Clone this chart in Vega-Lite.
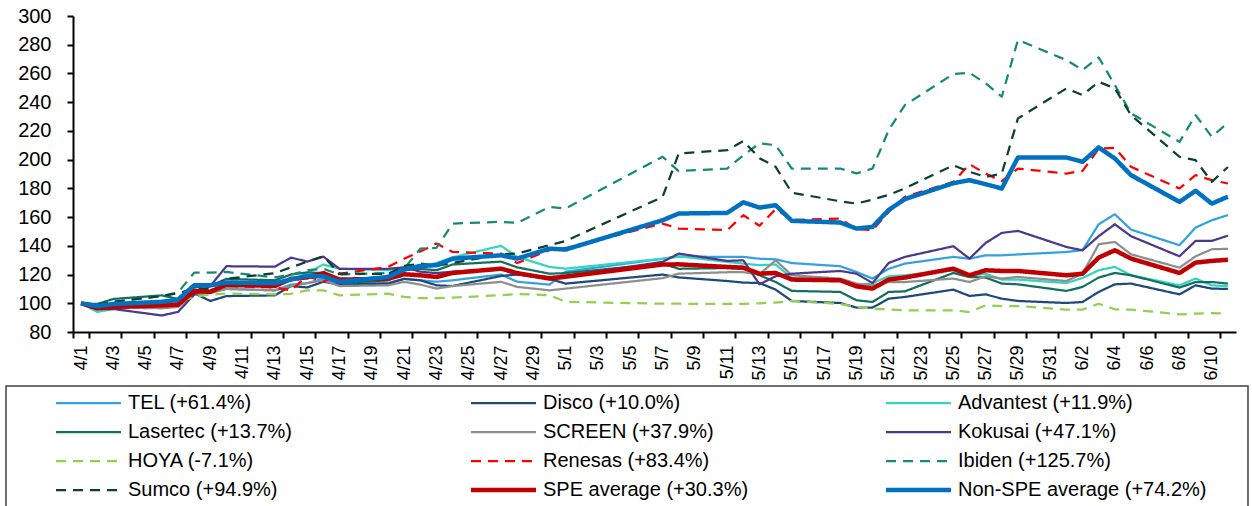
{
"$schema":"https://vega.github.io/schema/vega-lite/v6.json",
"width":1163,"height":316,
"autosize":{"type":"none"},
"padding":{"left":73,"top":16,"right":16,"bottom":174},
"background":"white",
"config":{"view":{"stroke":null},"font":"Liberation Sans",
"axis":{"domainColor":"black","tickColor":"black","labelColor":"black","domainWidth":2,"tickWidth":2,"tickSize":6,"grid":false,"title":null}},
"data":{"values":[
{"date":"4/1","series":"TEL (+61.4%)","value":100},{"date":"4/2","series":"TEL (+61.4%)","value":96},{"date":"4/3","series":"TEL (+61.4%)","value":97},{"date":"4/6","series":"TEL (+61.4%)","value":98},{"date":"4/7","series":"TEL (+61.4%)","value":99},{"date":"4/8","series":"TEL (+61.4%)","value":107},{"date":"4/9","series":"TEL (+61.4%)","value":108},{"date":"4/10","series":"TEL (+61.4%)","value":110},{"date":"4/13","series":"TEL (+61.4%)","value":109},{"date":"4/14","series":"TEL (+61.4%)","value":113},{"date":"4/15","series":"TEL (+61.4%)","value":114},{"date":"4/16","series":"TEL (+61.4%)","value":117},{"date":"4/17","series":"TEL (+61.4%)","value":114},{"date":"4/20","series":"TEL (+61.4%)","value":114},{"date":"4/21","series":"TEL (+61.4%)","value":117},{"date":"4/22","series":"TEL (+61.4%)","value":116},{"date":"4/23","series":"TEL (+61.4%)","value":115},{"date":"4/24","series":"TEL (+61.4%)","value":116},{"date":"4/27","series":"TEL (+61.4%)","value":120},{"date":"4/28","series":"TEL (+61.4%)","value":115},{"date":"4/30","series":"TEL (+61.4%)","value":113},{"date":"5/1","series":"TEL (+61.4%)","value":122},{"date":"5/7","series":"TEL (+61.4%)","value":131},{"date":"5/8","series":"TEL (+61.4%)","value":132.5},{"date":"5/11","series":"TEL (+61.4%)","value":132.3},{"date":"5/12","series":"TEL (+61.4%)","value":132.3},{"date":"5/13","series":"TEL (+61.4%)","value":131},{"date":"5/14","series":"TEL (+61.4%)","value":130.6},{"date":"5/15","series":"TEL (+61.4%)","value":128},{"date":"5/18","series":"TEL (+61.4%)","value":125.8},{"date":"5/19","series":"TEL (+61.4%)","value":121.8},{"date":"5/20","series":"TEL (+61.4%)","value":117.2},{"date":"5/21","series":"TEL (+61.4%)","value":124},{"date":"5/22","series":"TEL (+61.4%)","value":127.6},{"date":"5/25","series":"TEL (+61.4%)","value":132.3},{"date":"5/26","series":"TEL (+61.4%)","value":131},{"date":"5/27","series":"TEL (+61.4%)","value":133.4},{"date":"5/28","series":"TEL (+61.4%)","value":133.4},{"date":"5/29","series":"TEL (+61.4%)","value":134},{"date":"6/1","series":"TEL (+61.4%)","value":135.7},{"date":"6/2","series":"TEL (+61.4%)","value":137},{"date":"6/3","series":"TEL (+61.4%)","value":155},{"date":"6/4","series":"TEL (+61.4%)","value":162},{"date":"6/5","series":"TEL (+61.4%)","value":151.3},{"date":"6/8","series":"TEL (+61.4%)","value":140.4},{"date":"6/9","series":"TEL (+61.4%)","value":152.7},{"date":"6/10","series":"TEL (+61.4%)","value":157.8},{"date":"6/11","series":"TEL (+61.4%)","value":161.4},
{"date":"4/1","series":"Disco (+10.0%)","value":100},{"date":"4/2","series":"Disco (+10.0%)","value":97},{"date":"4/3","series":"Disco (+10.0%)","value":97},{"date":"4/6","series":"Disco (+10.0%)","value":99},{"date":"4/7","series":"Disco (+10.0%)","value":100},{"date":"4/8","series":"Disco (+10.0%)","value":107},{"date":"4/9","series":"Disco (+10.0%)","value":101.6},{"date":"4/10","series":"Disco (+10.0%)","value":105},{"date":"4/13","series":"Disco (+10.0%)","value":105.5},{"date":"4/14","series":"Disco (+10.0%)","value":112},{"date":"4/15","series":"Disco (+10.0%)","value":111},{"date":"4/16","series":"Disco (+10.0%)","value":115},{"date":"4/17","series":"Disco (+10.0%)","value":113},{"date":"4/20","series":"Disco (+10.0%)","value":113.7},{"date":"4/21","series":"Disco (+10.0%)","value":117},{"date":"4/22","series":"Disco (+10.0%)","value":116},{"date":"4/23","series":"Disco (+10.0%)","value":112.5},{"date":"4/24","series":"Disco (+10.0%)","value":112},{"date":"4/27","series":"Disco (+10.0%)","value":119},{"date":"4/28","series":"Disco (+10.0%)","value":120},{"date":"4/30","series":"Disco (+10.0%)","value":117},{"date":"5/1","series":"Disco (+10.0%)","value":113.7},{"date":"5/7","series":"Disco (+10.0%)","value":120},{"date":"5/8","series":"Disco (+10.0%)","value":118},{"date":"5/11","series":"Disco (+10.0%)","value":115.5},{"date":"5/12","series":"Disco (+10.0%)","value":114.4},{"date":"5/13","series":"Disco (+10.0%)","value":114.1},{"date":"5/14","series":"Disco (+10.0%)","value":109.5},{"date":"5/15","series":"Disco (+10.0%)","value":101.6},{"date":"5/18","series":"Disco (+10.0%)","value":100.2},{"date":"5/19","series":"Disco (+10.0%)","value":97},{"date":"5/20","series":"Disco (+10.0%)","value":97},{"date":"5/21","series":"Disco (+10.0%)","value":103.2},{"date":"5/22","series":"Disco (+10.0%)","value":104.4},{"date":"5/25","series":"Disco (+10.0%)","value":109.5},{"date":"5/26","series":"Disco (+10.0%)","value":105.1},{"date":"5/27","series":"Disco (+10.0%)","value":106.2},{"date":"5/28","series":"Disco (+10.0%)","value":103.2},{"date":"5/29","series":"Disco (+10.0%)","value":101.6},{"date":"6/1","series":"Disco (+10.0%)","value":100.2},{"date":"6/2","series":"Disco (+10.0%)","value":100.9},{"date":"6/3","series":"Disco (+10.0%)","value":107.9},{"date":"6/4","series":"Disco (+10.0%)","value":113.2},{"date":"6/5","series":"Disco (+10.0%)","value":113.7},{"date":"6/8","series":"Disco (+10.0%)","value":106.2},{"date":"6/9","series":"Disco (+10.0%)","value":112.5},{"date":"6/10","series":"Disco (+10.0%)","value":110.2},{"date":"6/11","series":"Disco (+10.0%)","value":110},
{"date":"4/1","series":"Advantest (+11.9%)","value":100},{"date":"4/2","series":"Advantest (+11.9%)","value":94},{"date":"4/3","series":"Advantest (+11.9%)","value":96},{"date":"4/6","series":"Advantest (+11.9%)","value":98},{"date":"4/7","series":"Advantest (+11.9%)","value":100},{"date":"4/8","series":"Advantest (+11.9%)","value":107},{"date":"4/9","series":"Advantest (+11.9%)","value":108},{"date":"4/10","series":"Advantest (+11.9%)","value":111},{"date":"4/13","series":"Advantest (+11.9%)","value":113},{"date":"4/14","series":"Advantest (+11.9%)","value":116},{"date":"4/15","series":"Advantest (+11.9%)","value":121},{"date":"4/16","series":"Advantest (+11.9%)","value":127},{"date":"4/17","series":"Advantest (+11.9%)","value":124},{"date":"4/20","series":"Advantest (+11.9%)","value":123},{"date":"4/21","series":"Advantest (+11.9%)","value":125},{"date":"4/22","series":"Advantest (+11.9%)","value":125},{"date":"4/23","series":"Advantest (+11.9%)","value":128},{"date":"4/24","series":"Advantest (+11.9%)","value":132},{"date":"4/27","series":"Advantest (+11.9%)","value":140},{"date":"4/28","series":"Advantest (+11.9%)","value":132.3},{"date":"4/30","series":"Advantest (+11.9%)","value":125.3},{"date":"5/1","series":"Advantest (+11.9%)","value":124.1},{"date":"5/7","series":"Advantest (+11.9%)","value":131},{"date":"5/8","series":"Advantest (+11.9%)","value":132.7},{"date":"5/11","series":"Advantest (+11.9%)","value":128.8},{"date":"5/12","series":"Advantest (+11.9%)","value":127.6},{"date":"5/13","series":"Advantest (+11.9%)","value":126.5},{"date":"5/14","series":"Advantest (+11.9%)","value":127},{"date":"5/15","series":"Advantest (+11.9%)","value":117.5},{"date":"5/18","series":"Advantest (+11.9%)","value":116.5},{"date":"5/19","series":"Advantest (+11.9%)","value":112.5},{"date":"5/20","series":"Advantest (+11.9%)","value":114},{"date":"5/21","series":"Advantest (+11.9%)","value":118.8},{"date":"5/22","series":"Advantest (+11.9%)","value":119.5},{"date":"5/25","series":"Advantest (+11.9%)","value":123},{"date":"5/26","series":"Advantest (+11.9%)","value":119},{"date":"5/27","series":"Advantest (+11.9%)","value":120.6},{"date":"5/28","series":"Advantest (+11.9%)","value":116.5},{"date":"5/29","series":"Advantest (+11.9%)","value":116.5},{"date":"6/1","series":"Advantest (+11.9%)","value":114.1},{"date":"6/2","series":"Advantest (+11.9%)","value":117.6},{"date":"6/3","series":"Advantest (+11.9%)","value":123},{"date":"6/4","series":"Advantest (+11.9%)","value":125.3},{"date":"6/5","series":"Advantest (+11.9%)","value":119.5},{"date":"6/8","series":"Advantest (+11.9%)","value":112.5},{"date":"6/9","series":"Advantest (+11.9%)","value":117.2},{"date":"6/10","series":"Advantest (+11.9%)","value":112.5},{"date":"6/11","series":"Advantest (+11.9%)","value":111.9},
{"date":"4/1","series":"Lasertec (+13.7%)","value":100},{"date":"4/2","series":"Lasertec (+13.7%)","value":99.5},{"date":"4/3","series":"Lasertec (+13.7%)","value":103},{"date":"4/6","series":"Lasertec (+13.7%)","value":105.5},{"date":"4/7","series":"Lasertec (+13.7%)","value":103},{"date":"4/8","series":"Lasertec (+13.7%)","value":111},{"date":"4/9","series":"Lasertec (+13.7%)","value":112},{"date":"4/10","series":"Lasertec (+13.7%)","value":117},{"date":"4/13","series":"Lasertec (+13.7%)","value":116},{"date":"4/14","series":"Lasertec (+13.7%)","value":120},{"date":"4/15","series":"Lasertec (+13.7%)","value":121.5},{"date":"4/16","series":"Lasertec (+13.7%)","value":121},{"date":"4/17","series":"Lasertec (+13.7%)","value":114},{"date":"4/20","series":"Lasertec (+13.7%)","value":116},{"date":"4/21","series":"Lasertec (+13.7%)","value":123},{"date":"4/22","series":"Lasertec (+13.7%)","value":124},{"date":"4/23","series":"Lasertec (+13.7%)","value":123},{"date":"4/24","series":"Lasertec (+13.7%)","value":127},{"date":"4/27","series":"Lasertec (+13.7%)","value":129},{"date":"4/28","series":"Lasertec (+13.7%)","value":125},{"date":"4/30","series":"Lasertec (+13.7%)","value":120.6},{"date":"5/1","series":"Lasertec (+13.7%)","value":121},{"date":"5/7","series":"Lasertec (+13.7%)","value":127.6},{"date":"5/8","series":"Lasertec (+13.7%)","value":124},{"date":"5/11","series":"Lasertec (+13.7%)","value":124.5},{"date":"5/12","series":"Lasertec (+13.7%)","value":124},{"date":"5/13","series":"Lasertec (+13.7%)","value":119.5},{"date":"5/14","series":"Lasertec (+13.7%)","value":114.8},{"date":"5/15","series":"Lasertec (+13.7%)","value":108.6},{"date":"5/18","series":"Lasertec (+13.7%)","value":107.9},{"date":"5/19","series":"Lasertec (+13.7%)","value":102.1},{"date":"5/20","series":"Lasertec (+13.7%)","value":100.9},{"date":"5/21","series":"Lasertec (+13.7%)","value":107.9},{"date":"5/22","series":"Lasertec (+13.7%)","value":108.3},{"date":"5/25","series":"Lasertec (+13.7%)","value":121.1},{"date":"5/26","series":"Lasertec (+13.7%)","value":118.3},{"date":"5/27","series":"Lasertec (+13.7%)","value":117.9},{"date":"5/28","series":"Lasertec (+13.7%)","value":113.7},{"date":"5/29","series":"Lasertec (+13.7%)","value":113.2},{"date":"6/1","series":"Lasertec (+13.7%)","value":108.6},{"date":"6/2","series":"Lasertec (+13.7%)","value":111.4},{"date":"6/3","series":"Lasertec (+13.7%)","value":117.9},{"date":"6/4","series":"Lasertec (+13.7%)","value":121.1},{"date":"6/5","series":"Lasertec (+13.7%)","value":119.5},{"date":"6/8","series":"Lasertec (+13.7%)","value":110.9},{"date":"6/9","series":"Lasertec (+13.7%)","value":114.8},{"date":"6/10","series":"Lasertec (+13.7%)","value":114.8},{"date":"6/11","series":"Lasertec (+13.7%)","value":113.7},
{"date":"4/1","series":"SCREEN (+37.9%)","value":100},{"date":"4/2","series":"SCREEN (+37.9%)","value":97},{"date":"4/3","series":"SCREEN (+37.9%)","value":97},{"date":"4/6","series":"SCREEN (+37.9%)","value":96.5},{"date":"4/7","series":"SCREEN (+37.9%)","value":97.5},{"date":"4/8","series":"SCREEN (+37.9%)","value":106},{"date":"4/9","series":"SCREEN (+37.9%)","value":107},{"date":"4/10","series":"SCREEN (+37.9%)","value":110},{"date":"4/13","series":"SCREEN (+37.9%)","value":109},{"date":"4/14","series":"SCREEN (+37.9%)","value":112},{"date":"4/15","series":"SCREEN (+37.9%)","value":114},{"date":"4/16","series":"SCREEN (+37.9%)","value":116},{"date":"4/17","series":"SCREEN (+37.9%)","value":112},{"date":"4/20","series":"SCREEN (+37.9%)","value":112.5},{"date":"4/21","series":"SCREEN (+37.9%)","value":114.9},{"date":"4/22","series":"SCREEN (+37.9%)","value":113},{"date":"4/23","series":"SCREEN (+37.9%)","value":110.2},{"date":"4/24","series":"SCREEN (+37.9%)","value":112},{"date":"4/27","series":"SCREEN (+37.9%)","value":114.9},{"date":"4/28","series":"SCREEN (+37.9%)","value":111.4},{"date":"4/30","series":"SCREEN (+37.9%)","value":109},{"date":"5/1","series":"SCREEN (+37.9%)","value":110.2},{"date":"5/7","series":"SCREEN (+37.9%)","value":117.5},{"date":"5/8","series":"SCREEN (+37.9%)","value":120.6},{"date":"5/11","series":"SCREEN (+37.9%)","value":121.6},{"date":"5/12","series":"SCREEN (+37.9%)","value":121.6},{"date":"5/13","series":"SCREEN (+37.9%)","value":120.2},{"date":"5/14","series":"SCREEN (+37.9%)","value":129.9},{"date":"5/15","series":"SCREEN (+37.9%)","value":119.5},{"date":"5/18","series":"SCREEN (+37.9%)","value":117.2},{"date":"5/19","series":"SCREEN (+37.9%)","value":113.7},{"date":"5/20","series":"SCREEN (+37.9%)","value":112.5},{"date":"5/21","series":"SCREEN (+37.9%)","value":114.8},{"date":"5/22","series":"SCREEN (+37.9%)","value":114.8},{"date":"5/25","series":"SCREEN (+37.9%)","value":117.2},{"date":"5/26","series":"SCREEN (+37.9%)","value":114.8},{"date":"5/27","series":"SCREEN (+37.9%)","value":118.8},{"date":"5/28","series":"SCREEN (+37.9%)","value":117.2},{"date":"5/29","series":"SCREEN (+37.9%)","value":118.3},{"date":"6/1","series":"SCREEN (+37.9%)","value":115.5},{"date":"6/2","series":"SCREEN (+37.9%)","value":120.6},{"date":"6/3","series":"SCREEN (+37.9%)","value":141.1},{"date":"6/4","series":"SCREEN (+37.9%)","value":142.7},{"date":"6/5","series":"SCREEN (+37.9%)","value":134.1},{"date":"6/8","series":"SCREEN (+37.9%)","value":124.8},{"date":"6/9","series":"SCREEN (+37.9%)","value":132.7},{"date":"6/10","series":"SCREEN (+37.9%)","value":137.6},{"date":"6/11","series":"SCREEN (+37.9%)","value":137.9},
{"date":"4/1","series":"Kokusai (+47.1%)","value":100},{"date":"4/2","series":"Kokusai (+47.1%)","value":96},{"date":"4/3","series":"Kokusai (+47.1%)","value":96},{"date":"4/6","series":"Kokusai (+47.1%)","value":91.5},{"date":"4/7","series":"Kokusai (+47.1%)","value":94},{"date":"4/8","series":"Kokusai (+47.1%)","value":106},{"date":"4/9","series":"Kokusai (+47.1%)","value":112},{"date":"4/10","series":"Kokusai (+47.1%)","value":125.8},{"date":"4/13","series":"Kokusai (+47.1%)","value":125.5},{"date":"4/14","series":"Kokusai (+47.1%)","value":131.8},{"date":"4/15","series":"Kokusai (+47.1%)","value":129},{"date":"4/16","series":"Kokusai (+47.1%)","value":132.5},{"date":"4/17","series":"Kokusai (+47.1%)","value":124},{"date":"4/20","series":"Kokusai (+47.1%)","value":124},{"date":"4/21","series":"Kokusai (+47.1%)","value":125},{"date":"4/22","series":"Kokusai (+47.1%)","value":122},{"date":"4/23","series":"Kokusai (+47.1%)","value":121},{"date":"4/24","series":"Kokusai (+47.1%)","value":122},{"date":"4/27","series":"Kokusai (+47.1%)","value":124},{"date":"4/28","series":"Kokusai (+47.1%)","value":120},{"date":"4/30","series":"Kokusai (+47.1%)","value":118.3},{"date":"5/1","series":"Kokusai (+47.1%)","value":119},{"date":"5/7","series":"Kokusai (+47.1%)","value":128.8},{"date":"5/8","series":"Kokusai (+47.1%)","value":134.6},{"date":"5/11","series":"Kokusai (+47.1%)","value":129.5},{"date":"5/12","series":"Kokusai (+47.1%)","value":129.9},{"date":"5/13","series":"Kokusai (+47.1%)","value":113.2},{"date":"5/14","series":"Kokusai (+47.1%)","value":118.8},{"date":"5/15","series":"Kokusai (+47.1%)","value":120.6},{"date":"5/18","series":"Kokusai (+47.1%)","value":122.5},{"date":"5/19","series":"Kokusai (+47.1%)","value":120.6},{"date":"5/20","series":"Kokusai (+47.1%)","value":114.1},{"date":"5/21","series":"Kokusai (+47.1%)","value":128.1},{"date":"5/22","series":"Kokusai (+47.1%)","value":132.3},{"date":"5/25","series":"Kokusai (+47.1%)","value":139.7},{"date":"5/26","series":"Kokusai (+47.1%)","value":131.1},{"date":"5/27","series":"Kokusai (+47.1%)","value":142},{"date":"5/28","series":"Kokusai (+47.1%)","value":149},{"date":"5/29","series":"Kokusai (+47.1%)","value":150.4},{"date":"6/1","series":"Kokusai (+47.1%)","value":139.2},{"date":"6/2","series":"Kokusai (+47.1%)","value":136.9},{"date":"6/3","series":"Kokusai (+47.1%)","value":146.7},{"date":"6/4","series":"Kokusai (+47.1%)","value":155},{"date":"6/5","series":"Kokusai (+47.1%)","value":146.7},{"date":"6/8","series":"Kokusai (+47.1%)","value":132.7},{"date":"6/9","series":"Kokusai (+47.1%)","value":143.4},{"date":"6/10","series":"Kokusai (+47.1%)","value":143.4},{"date":"6/11","series":"Kokusai (+47.1%)","value":147.1},
{"date":"4/1","series":"HOYA (-7.1%)","value":100},{"date":"4/2","series":"HOYA (-7.1%)","value":98},{"date":"4/3","series":"HOYA (-7.1%)","value":98},{"date":"4/6","series":"HOYA (-7.1%)","value":98},{"date":"4/7","series":"HOYA (-7.1%)","value":101},{"date":"4/8","series":"HOYA (-7.1%)","value":104.5},{"date":"4/9","series":"HOYA (-7.1%)","value":106},{"date":"4/10","series":"HOYA (-7.1%)","value":106.7},{"date":"4/13","series":"HOYA (-7.1%)","value":106.2},{"date":"4/14","series":"HOYA (-7.1%)","value":106.5},{"date":"4/15","series":"HOYA (-7.1%)","value":109},{"date":"4/16","series":"HOYA (-7.1%)","value":109},{"date":"4/17","series":"HOYA (-7.1%)","value":105.5},{"date":"4/20","series":"HOYA (-7.1%)","value":106.7},{"date":"4/21","series":"HOYA (-7.1%)","value":104.4},{"date":"4/22","series":"HOYA (-7.1%)","value":103.5},{"date":"4/23","series":"HOYA (-7.1%)","value":103.5},{"date":"4/24","series":"HOYA (-7.1%)","value":104},{"date":"4/27","series":"HOYA (-7.1%)","value":105.6},{"date":"4/28","series":"HOYA (-7.1%)","value":106.5},{"date":"4/30","series":"HOYA (-7.1%)","value":105.6},{"date":"5/1","series":"HOYA (-7.1%)","value":101},{"date":"5/7","series":"HOYA (-7.1%)","value":99.7},{"date":"5/8","series":"HOYA (-7.1%)","value":99.7},{"date":"5/11","series":"HOYA (-7.1%)","value":99.5},{"date":"5/12","series":"HOYA (-7.1%)","value":99.5},{"date":"5/13","series":"HOYA (-7.1%)","value":100},{"date":"5/14","series":"HOYA (-7.1%)","value":100.5},{"date":"5/15","series":"HOYA (-7.1%)","value":101.6},{"date":"5/18","series":"HOYA (-7.1%)","value":99.5},{"date":"5/19","series":"HOYA (-7.1%)","value":97.4},{"date":"5/20","series":"HOYA (-7.1%)","value":96.3},{"date":"5/21","series":"HOYA (-7.1%)","value":95.6},{"date":"5/22","series":"HOYA (-7.1%)","value":95.1},{"date":"5/25","series":"HOYA (-7.1%)","value":95.1},{"date":"5/26","series":"HOYA (-7.1%)","value":93.9},{"date":"5/27","series":"HOYA (-7.1%)","value":98.6},{"date":"5/28","series":"HOYA (-7.1%)","value":98.1},{"date":"5/29","series":"HOYA (-7.1%)","value":98},{"date":"6/1","series":"HOYA (-7.1%)","value":95.6},{"date":"6/2","series":"HOYA (-7.1%)","value":95.6},{"date":"6/3","series":"HOYA (-7.1%)","value":99.7},{"date":"6/4","series":"HOYA (-7.1%)","value":95.8},{"date":"6/5","series":"HOYA (-7.1%)","value":95.6},{"date":"6/8","series":"HOYA (-7.1%)","value":92.3},{"date":"6/9","series":"HOYA (-7.1%)","value":92.8},{"date":"6/10","series":"HOYA (-7.1%)","value":93.2},{"date":"6/11","series":"HOYA (-7.1%)","value":92.9},
{"date":"4/1","series":"Renesas (+83.4%)","value":100},{"date":"4/2","series":"Renesas (+83.4%)","value":96},{"date":"4/3","series":"Renesas (+83.4%)","value":98},{"date":"4/6","series":"Renesas (+83.4%)","value":98},{"date":"4/7","series":"Renesas (+83.4%)","value":100},{"date":"4/8","series":"Renesas (+83.4%)","value":109},{"date":"4/9","series":"Renesas (+83.4%)","value":109},{"date":"4/10","series":"Renesas (+83.4%)","value":112},{"date":"4/13","series":"Renesas (+83.4%)","value":111},{"date":"4/14","series":"Renesas (+83.4%)","value":109},{"date":"4/15","series":"Renesas (+83.4%)","value":119},{"date":"4/16","series":"Renesas (+83.4%)","value":115},{"date":"4/17","series":"Renesas (+83.4%)","value":120.5},{"date":"4/20","series":"Renesas (+83.4%)","value":125.3},{"date":"4/21","series":"Renesas (+83.4%)","value":131},{"date":"4/22","series":"Renesas (+83.4%)","value":136},{"date":"4/23","series":"Renesas (+83.4%)","value":141.6},{"date":"4/24","series":"Renesas (+83.4%)","value":135.7},{"date":"4/27","series":"Renesas (+83.4%)","value":134.6},{"date":"4/28","series":"Renesas (+83.4%)","value":128},{"date":"4/30","series":"Renesas (+83.4%)","value":137},{"date":"5/1","series":"Renesas (+83.4%)","value":138.5},{"date":"5/7","series":"Renesas (+83.4%)","value":155.5},{"date":"5/8","series":"Renesas (+83.4%)","value":152},{"date":"5/11","series":"Renesas (+83.4%)","value":150.9},{"date":"5/12","series":"Renesas (+83.4%)","value":161.3},{"date":"5/13","series":"Renesas (+83.4%)","value":154},{"date":"5/14","series":"Renesas (+83.4%)","value":165.5},{"date":"5/15","series":"Renesas (+83.4%)","value":158},{"date":"5/18","series":"Renesas (+83.4%)","value":159},{"date":"5/19","series":"Renesas (+83.4%)","value":151.5},{"date":"5/20","series":"Renesas (+83.4%)","value":150.9},{"date":"5/21","series":"Renesas (+83.4%)","value":163.6},{"date":"5/22","series":"Renesas (+83.4%)","value":174.1},{"date":"5/25","series":"Renesas (+83.4%)","value":184.5},{"date":"5/26","series":"Renesas (+83.4%)","value":196.8},{"date":"5/27","series":"Renesas (+83.4%)","value":190.3},{"date":"5/28","series":"Renesas (+83.4%)","value":185},{"date":"5/29","series":"Renesas (+83.4%)","value":193.8},{"date":"6/1","series":"Renesas (+83.4%)","value":190.3},{"date":"6/2","series":"Renesas (+83.4%)","value":192.2},{"date":"6/3","series":"Renesas (+83.4%)","value":207.5},{"date":"6/4","series":"Renesas (+83.4%)","value":208.3},{"date":"6/5","series":"Renesas (+83.4%)","value":195},{"date":"6/8","series":"Renesas (+83.4%)","value":179.9},{"date":"6/9","series":"Renesas (+83.4%)","value":189.2},{"date":"6/10","series":"Renesas (+83.4%)","value":185.7},{"date":"6/11","series":"Renesas (+83.4%)","value":183.4},
{"date":"4/1","series":"Ibiden (+125.7%)","value":100},{"date":"4/2","series":"Ibiden (+125.7%)","value":99},{"date":"4/3","series":"Ibiden (+125.7%)","value":101},{"date":"4/6","series":"Ibiden (+125.7%)","value":105},{"date":"4/7","series":"Ibiden (+125.7%)","value":107.5},{"date":"4/8","series":"Ibiden (+125.7%)","value":121.3},{"date":"4/9","series":"Ibiden (+125.7%)","value":121.3},{"date":"4/10","series":"Ibiden (+125.7%)","value":121.8},{"date":"4/13","series":"Ibiden (+125.7%)","value":118},{"date":"4/14","series":"Ibiden (+125.7%)","value":120},{"date":"4/15","series":"Ibiden (+125.7%)","value":123},{"date":"4/16","series":"Ibiden (+125.7%)","value":124},{"date":"4/17","series":"Ibiden (+125.7%)","value":120},{"date":"4/20","series":"Ibiden (+125.7%)","value":121},{"date":"4/21","series":"Ibiden (+125.7%)","value":124},{"date":"4/22","series":"Ibiden (+125.7%)","value":138},{"date":"4/23","series":"Ibiden (+125.7%)","value":138.5},{"date":"4/24","series":"Ibiden (+125.7%)","value":155.5},{"date":"4/27","series":"Ibiden (+125.7%)","value":156.7},{"date":"4/28","series":"Ibiden (+125.7%)","value":156},{"date":"4/30","series":"Ibiden (+125.7%)","value":167},{"date":"5/1","series":"Ibiden (+125.7%)","value":166},{"date":"5/7","series":"Ibiden (+125.7%)","value":202},{"date":"5/8","series":"Ibiden (+125.7%)","value":192},{"date":"5/11","series":"Ibiden (+125.7%)","value":193.8},{"date":"5/12","series":"Ibiden (+125.7%)","value":203},{"date":"5/13","series":"Ibiden (+125.7%)","value":211.3},{"date":"5/14","series":"Ibiden (+125.7%)","value":210.1},{"date":"5/15","series":"Ibiden (+125.7%)","value":193.8},{"date":"5/18","series":"Ibiden (+125.7%)","value":193.8},{"date":"5/19","series":"Ibiden (+125.7%)","value":190.4},{"date":"5/20","series":"Ibiden (+125.7%)","value":193.8},{"date":"5/21","series":"Ibiden (+125.7%)","value":220.6},{"date":"5/22","series":"Ibiden (+125.7%)","value":238},{"date":"5/25","series":"Ibiden (+125.7%)","value":259.6},{"date":"5/26","series":"Ibiden (+125.7%)","value":260.5},{"date":"5/27","series":"Ibiden (+125.7%)","value":253.1},{"date":"5/28","series":"Ibiden (+125.7%)","value":243.8},{"date":"5/29","series":"Ibiden (+125.7%)","value":283.3},{"date":"6/1","series":"Ibiden (+125.7%)","value":269.3},{"date":"6/2","series":"Ibiden (+125.7%)","value":262.4},{"date":"6/3","series":"Ibiden (+125.7%)","value":271.2},{"date":"6/4","series":"Ibiden (+125.7%)","value":251.9},{"date":"6/5","series":"Ibiden (+125.7%)","value":232.2},{"date":"6/8","series":"Ibiden (+125.7%)","value":212.4},{"date":"6/9","series":"Ibiden (+125.7%)","value":231},{"date":"6/10","series":"Ibiden (+125.7%)","value":215.9},{"date":"6/11","series":"Ibiden (+125.7%)","value":225.7},
{"date":"4/1","series":"Sumco (+94.9%)","value":100},{"date":"4/2","series":"Sumco (+94.9%)","value":99},{"date":"4/3","series":"Sumco (+94.9%)","value":101},{"date":"4/6","series":"Sumco (+94.9%)","value":105},{"date":"4/7","series":"Sumco (+94.9%)","value":107},{"date":"4/8","series":"Sumco (+94.9%)","value":110},{"date":"4/9","series":"Sumco (+94.9%)","value":110},{"date":"4/10","series":"Sumco (+94.9%)","value":117},{"date":"4/13","series":"Sumco (+94.9%)","value":121},{"date":"4/14","series":"Sumco (+94.9%)","value":125},{"date":"4/15","series":"Sumco (+94.9%)","value":129},{"date":"4/16","series":"Sumco (+94.9%)","value":132.7},{"date":"4/17","series":"Sumco (+94.9%)","value":120.6},{"date":"4/20","series":"Sumco (+94.9%)","value":120.5},{"date":"4/21","series":"Sumco (+94.9%)","value":126},{"date":"4/22","series":"Sumco (+94.9%)","value":127.6},{"date":"4/23","series":"Sumco (+94.9%)","value":126},{"date":"4/24","series":"Sumco (+94.9%)","value":128},{"date":"4/27","series":"Sumco (+94.9%)","value":134.1},{"date":"4/28","series":"Sumco (+94.9%)","value":134.6},{"date":"4/30","series":"Sumco (+94.9%)","value":140.4},{"date":"5/1","series":"Sumco (+94.9%)","value":143.4},{"date":"5/7","series":"Sumco (+94.9%)","value":174},{"date":"5/8","series":"Sumco (+94.9%)","value":204.3},{"date":"5/11","series":"Sumco (+94.9%)","value":206.6},{"date":"5/12","series":"Sumco (+94.9%)","value":213},{"date":"5/13","series":"Sumco (+94.9%)","value":201},{"date":"5/14","series":"Sumco (+94.9%)","value":195},{"date":"5/15","series":"Sumco (+94.9%)","value":177},{"date":"5/18","series":"Sumco (+94.9%)","value":171},{"date":"5/19","series":"Sumco (+94.9%)","value":169.4},{"date":"5/20","series":"Sumco (+94.9%)","value":172.2},{"date":"5/21","series":"Sumco (+94.9%)","value":175.5},{"date":"5/22","series":"Sumco (+94.9%)","value":180},{"date":"5/25","series":"Sumco (+94.9%)","value":196.1},{"date":"5/26","series":"Sumco (+94.9%)","value":191.5},{"date":"5/27","series":"Sumco (+94.9%)","value":188},{"date":"5/28","series":"Sumco (+94.9%)","value":190.3},{"date":"5/29","series":"Sumco (+94.9%)","value":228.7},{"date":"6/1","series":"Sumco (+94.9%)","value":249.6},{"date":"6/2","series":"Sumco (+94.9%)","value":244.9},{"date":"6/3","series":"Sumco (+94.9%)","value":254.2},{"date":"6/4","series":"Sumco (+94.9%)","value":249.6},{"date":"6/5","series":"Sumco (+94.9%)","value":231},{"date":"6/8","series":"Sumco (+94.9%)","value":202},{"date":"6/9","series":"Sumco (+94.9%)","value":199.6},{"date":"6/10","series":"Sumco (+94.9%)","value":184.5},{"date":"6/11","series":"Sumco (+94.9%)","value":194.9},
{"date":"4/1","series":"SPE average (+30.3%)","value":100},{"date":"4/2","series":"SPE average (+30.3%)","value":96.5},{"date":"4/3","series":"SPE average (+30.3%)","value":97.5},{"date":"4/6","series":"SPE average (+30.3%)","value":98.5},{"date":"4/7","series":"SPE average (+30.3%)","value":99},{"date":"4/8","series":"SPE average (+30.3%)","value":108.5},{"date":"4/9","series":"SPE average (+30.3%)","value":108},{"date":"4/10","series":"SPE average (+30.3%)","value":113},{"date":"4/13","series":"SPE average (+30.3%)","value":112},{"date":"4/14","series":"SPE average (+30.3%)","value":117},{"date":"4/15","series":"SPE average (+30.3%)","value":118},{"date":"4/16","series":"SPE average (+30.3%)","value":121},{"date":"4/17","series":"SPE average (+30.3%)","value":116.5},{"date":"4/20","series":"SPE average (+30.3%)","value":117},{"date":"4/21","series":"SPE average (+30.3%)","value":120.2},{"date":"4/22","series":"SPE average (+30.3%)","value":119.5},{"date":"4/23","series":"SPE average (+30.3%)","value":118.3},{"date":"4/24","series":"SPE average (+30.3%)","value":121.1},{"date":"4/27","series":"SPE average (+30.3%)","value":124.1},{"date":"4/28","series":"SPE average (+30.3%)","value":121},{"date":"4/30","series":"SPE average (+30.3%)","value":117.2},{"date":"5/1","series":"SPE average (+30.3%)","value":118.5},{"date":"5/7","series":"SPE average (+30.3%)","value":127},{"date":"5/8","series":"SPE average (+30.3%)","value":127.1},{"date":"5/11","series":"SPE average (+30.3%)","value":125.3},{"date":"5/12","series":"SPE average (+30.3%)","value":124.8},{"date":"5/13","series":"SPE average (+30.3%)","value":120.6},{"date":"5/14","series":"SPE average (+30.3%)","value":121.1},{"date":"5/15","series":"SPE average (+30.3%)","value":116.5},{"date":"5/18","series":"SPE average (+30.3%)","value":116},{"date":"5/19","series":"SPE average (+30.3%)","value":111.8},{"date":"5/20","series":"SPE average (+30.3%)","value":110.2},{"date":"5/21","series":"SPE average (+30.3%)","value":116.5},{"date":"5/22","series":"SPE average (+30.3%)","value":117.9},{"date":"5/25","series":"SPE average (+30.3%)","value":124.1},{"date":"5/26","series":"SPE average (+30.3%)","value":119.5},{"date":"5/27","series":"SPE average (+30.3%)","value":123},{"date":"5/28","series":"SPE average (+30.3%)","value":122.5},{"date":"5/29","series":"SPE average (+30.3%)","value":122.5},{"date":"6/1","series":"SPE average (+30.3%)","value":119.5},{"date":"6/2","series":"SPE average (+30.3%)","value":120.6},{"date":"6/3","series":"SPE average (+30.3%)","value":131.8},{"date":"6/4","series":"SPE average (+30.3%)","value":136.9},{"date":"6/5","series":"SPE average (+30.3%)","value":131.1},{"date":"6/8","series":"SPE average (+30.3%)","value":121.1},{"date":"6/9","series":"SPE average (+30.3%)","value":128.3},{"date":"6/10","series":"SPE average (+30.3%)","value":129.5},{"date":"6/11","series":"SPE average (+30.3%)","value":130.3},
{"date":"4/1","series":"Non-SPE average (+74.2%)","value":100},{"date":"4/2","series":"Non-SPE average (+74.2%)","value":98},{"date":"4/3","series":"Non-SPE average (+74.2%)","value":99.5},{"date":"4/6","series":"Non-SPE average (+74.2%)","value":101},{"date":"4/7","series":"Non-SPE average (+74.2%)","value":102.5},{"date":"4/8","series":"Non-SPE average (+74.2%)","value":112.5},{"date":"4/9","series":"Non-SPE average (+74.2%)","value":112.5},{"date":"4/10","series":"Non-SPE average (+74.2%)","value":114.5},{"date":"4/13","series":"Non-SPE average (+74.2%)","value":114},{"date":"4/14","series":"Non-SPE average (+74.2%)","value":116.5},{"date":"4/15","series":"Non-SPE average (+74.2%)","value":119},{"date":"4/16","series":"Non-SPE average (+74.2%)","value":118.8},{"date":"4/17","series":"Non-SPE average (+74.2%)","value":115},{"date":"4/20","series":"Non-SPE average (+74.2%)","value":118.3},{"date":"4/21","series":"Non-SPE average (+74.2%)","value":123.5},{"date":"4/22","series":"Non-SPE average (+74.2%)","value":126},{"date":"4/23","series":"Non-SPE average (+74.2%)","value":126.5},{"date":"4/24","series":"Non-SPE average (+74.2%)","value":131},{"date":"4/27","series":"Non-SPE average (+74.2%)","value":133.4},{"date":"4/28","series":"Non-SPE average (+74.2%)","value":131.1},{"date":"4/30","series":"Non-SPE average (+74.2%)","value":138},{"date":"5/1","series":"Non-SPE average (+74.2%)","value":137.4},{"date":"5/7","series":"Non-SPE average (+74.2%)","value":157.8},{"date":"5/8","series":"Non-SPE average (+74.2%)","value":162.5},{"date":"5/11","series":"Non-SPE average (+74.2%)","value":162.9},{"date":"5/12","series":"Non-SPE average (+74.2%)","value":170.3},{"date":"5/13","series":"Non-SPE average (+74.2%)","value":166.6},{"date":"5/14","series":"Non-SPE average (+74.2%)","value":168.3},{"date":"5/15","series":"Non-SPE average (+74.2%)","value":157.4},{"date":"5/18","series":"Non-SPE average (+74.2%)","value":156.2},{"date":"5/19","series":"Non-SPE average (+74.2%)","value":152},{"date":"5/20","series":"Non-SPE average (+74.2%)","value":153.2},{"date":"5/21","series":"Non-SPE average (+74.2%)","value":165},{"date":"5/22","series":"Non-SPE average (+74.2%)","value":172.5},{"date":"5/25","series":"Non-SPE average (+74.2%)","value":183.6},{"date":"5/26","series":"Non-SPE average (+74.2%)","value":185.7},{"date":"5/27","series":"Non-SPE average (+74.2%)","value":182.9},{"date":"5/28","series":"Non-SPE average (+74.2%)","value":179.9},{"date":"5/29","series":"Non-SPE average (+74.2%)","value":201.5},{"date":"6/1","series":"Non-SPE average (+74.2%)","value":201.5},{"date":"6/2","series":"Non-SPE average (+74.2%)","value":198.5},{"date":"6/3","series":"Non-SPE average (+74.2%)","value":208.5},{"date":"6/4","series":"Non-SPE average (+74.2%)","value":200.8},{"date":"6/5","series":"Non-SPE average (+74.2%)","value":189.2},{"date":"6/8","series":"Non-SPE average (+74.2%)","value":170.6},{"date":"6/9","series":"Non-SPE average (+74.2%)","value":178.3},{"date":"6/10","series":"Non-SPE average (+74.2%)","value":169.4},{"date":"6/11","series":"Non-SPE average (+74.2%)","value":174.2}
]},
"mark":{"type":"line","strokeJoin":"round","strokeCap":"butt"},
"encoding":{
"x":{"field":"date","type":"ordinal",
"scale":{"type":"band","paddingInner":0,"paddingOuter":0,"domain":["4/1","4/2","4/3","4/4","4/5","4/6","4/7","4/8","4/9","4/10","4/11","4/12","4/13","4/14","4/15","4/16","4/17","4/18","4/19","4/20","4/21","4/22","4/23","4/24","4/25","4/26","4/27","4/28","4/29","4/30","5/1","5/2","5/3","5/4","5/5","5/6","5/7","5/8","5/9","5/10","5/11","5/12","5/13","5/14","5/15","5/16","5/17","5/18","5/19","5/20","5/21","5/22","5/23","5/24","5/25","5/26","5/27","5/28","5/29","5/30","5/31","6/1","6/2","6/3","6/4","6/5","6/6","6/7","6/8","6/9","6/10","6/11"]},
"axis":{"values":["4/1","4/3","4/5","4/7","4/9","4/11","4/13","4/15","4/17","4/19","4/21","4/23","4/25","4/27","4/29","5/1","5/3","5/5","5/7","5/9","5/11","5/13","5/15","5/17","5/19","5/21","5/23","5/25","5/27","5/29","5/31","6/2","6/4","6/6","6/8","6/10"],
"labelAngle":-90,"tickBand":"extent","labelFontSize":18,"labelPadding":7,"labelOverlap":false}},
"y":{"field":"value","type":"quantitative","scale":{"domain":[80,300],"nice":false,"zero":false},
"axis":{"values":[80,100,120,140,160,180,200,220,240,260,280,300],"labelFontSize":20,"labelPadding":16}},
"color":{"field":"series","type":"nominal",
"scale":{"domain":["TEL (+61.4%)","Disco (+10.0%)","Advantest (+11.9%)","Lasertec (+13.7%)","SCREEN (+37.9%)","Kokusai (+47.1%)","HOYA (-7.1%)","Renesas (+83.4%)","Ibiden (+125.7%)","Sumco (+94.9%)","SPE average (+30.3%)","Non-SPE average (+74.2%)"],
"range":["#33A2DF","#1F497D","#33D4C0","#127060","#8E8E8E","#4B3A8A","#92D050","#FF0000","#178A76","#0D3F33","#C00000","#0070C0"]},
"legend":{"orient":"none","legendX":-67,"legendY":370,"direction":"horizontal","columns":3,"gridAlign":"all","columnPadding":60,"rowPadding":9,
"symbolType":"stroke","symbolSize":4225,"clipHeight":20,"labelFontSize":20,"labelLimit":600,"labelColor":"black",
"padding":7,"strokeColor":"#404040","title":" ","titleOrient":"left","titlePadding":43,"titleFontSize":20,
"encode":{
"symbols":{"update":{"x":{"value":32.5},"strokeWidth":{"signal":"indexof('' + datum.value, 'average') >= 0 ? 4.5 : 2.25"}}},
"labels":{"update":{"x":{"value":72}}},
"entries":{"update":{"width":{"value":355},"height":{"value":20}}},
"legend":{"update":{"strokeWidth":{"value":1.5}}}}}},
"strokeDash":{"field":"series","type":"nominal",
"scale":{"domain":["TEL (+61.4%)","Disco (+10.0%)","Advantest (+11.9%)","Lasertec (+13.7%)","SCREEN (+37.9%)","Kokusai (+47.1%)","HOYA (-7.1%)","Renesas (+83.4%)","Ibiden (+125.7%)","Sumco (+94.9%)","SPE average (+30.3%)","Non-SPE average (+74.2%)"],
"range":[[1,0],[1,0],[1,0],[1,0],[1,0],[1,0],[10,7],[10,7],[10,7],[10,7],[1,0],[1,0]]}},
"strokeWidth":{"condition":{"test":"indexof('' + datum.series, 'average') >= 0","value":4.5},"value":2.25}
}
}
